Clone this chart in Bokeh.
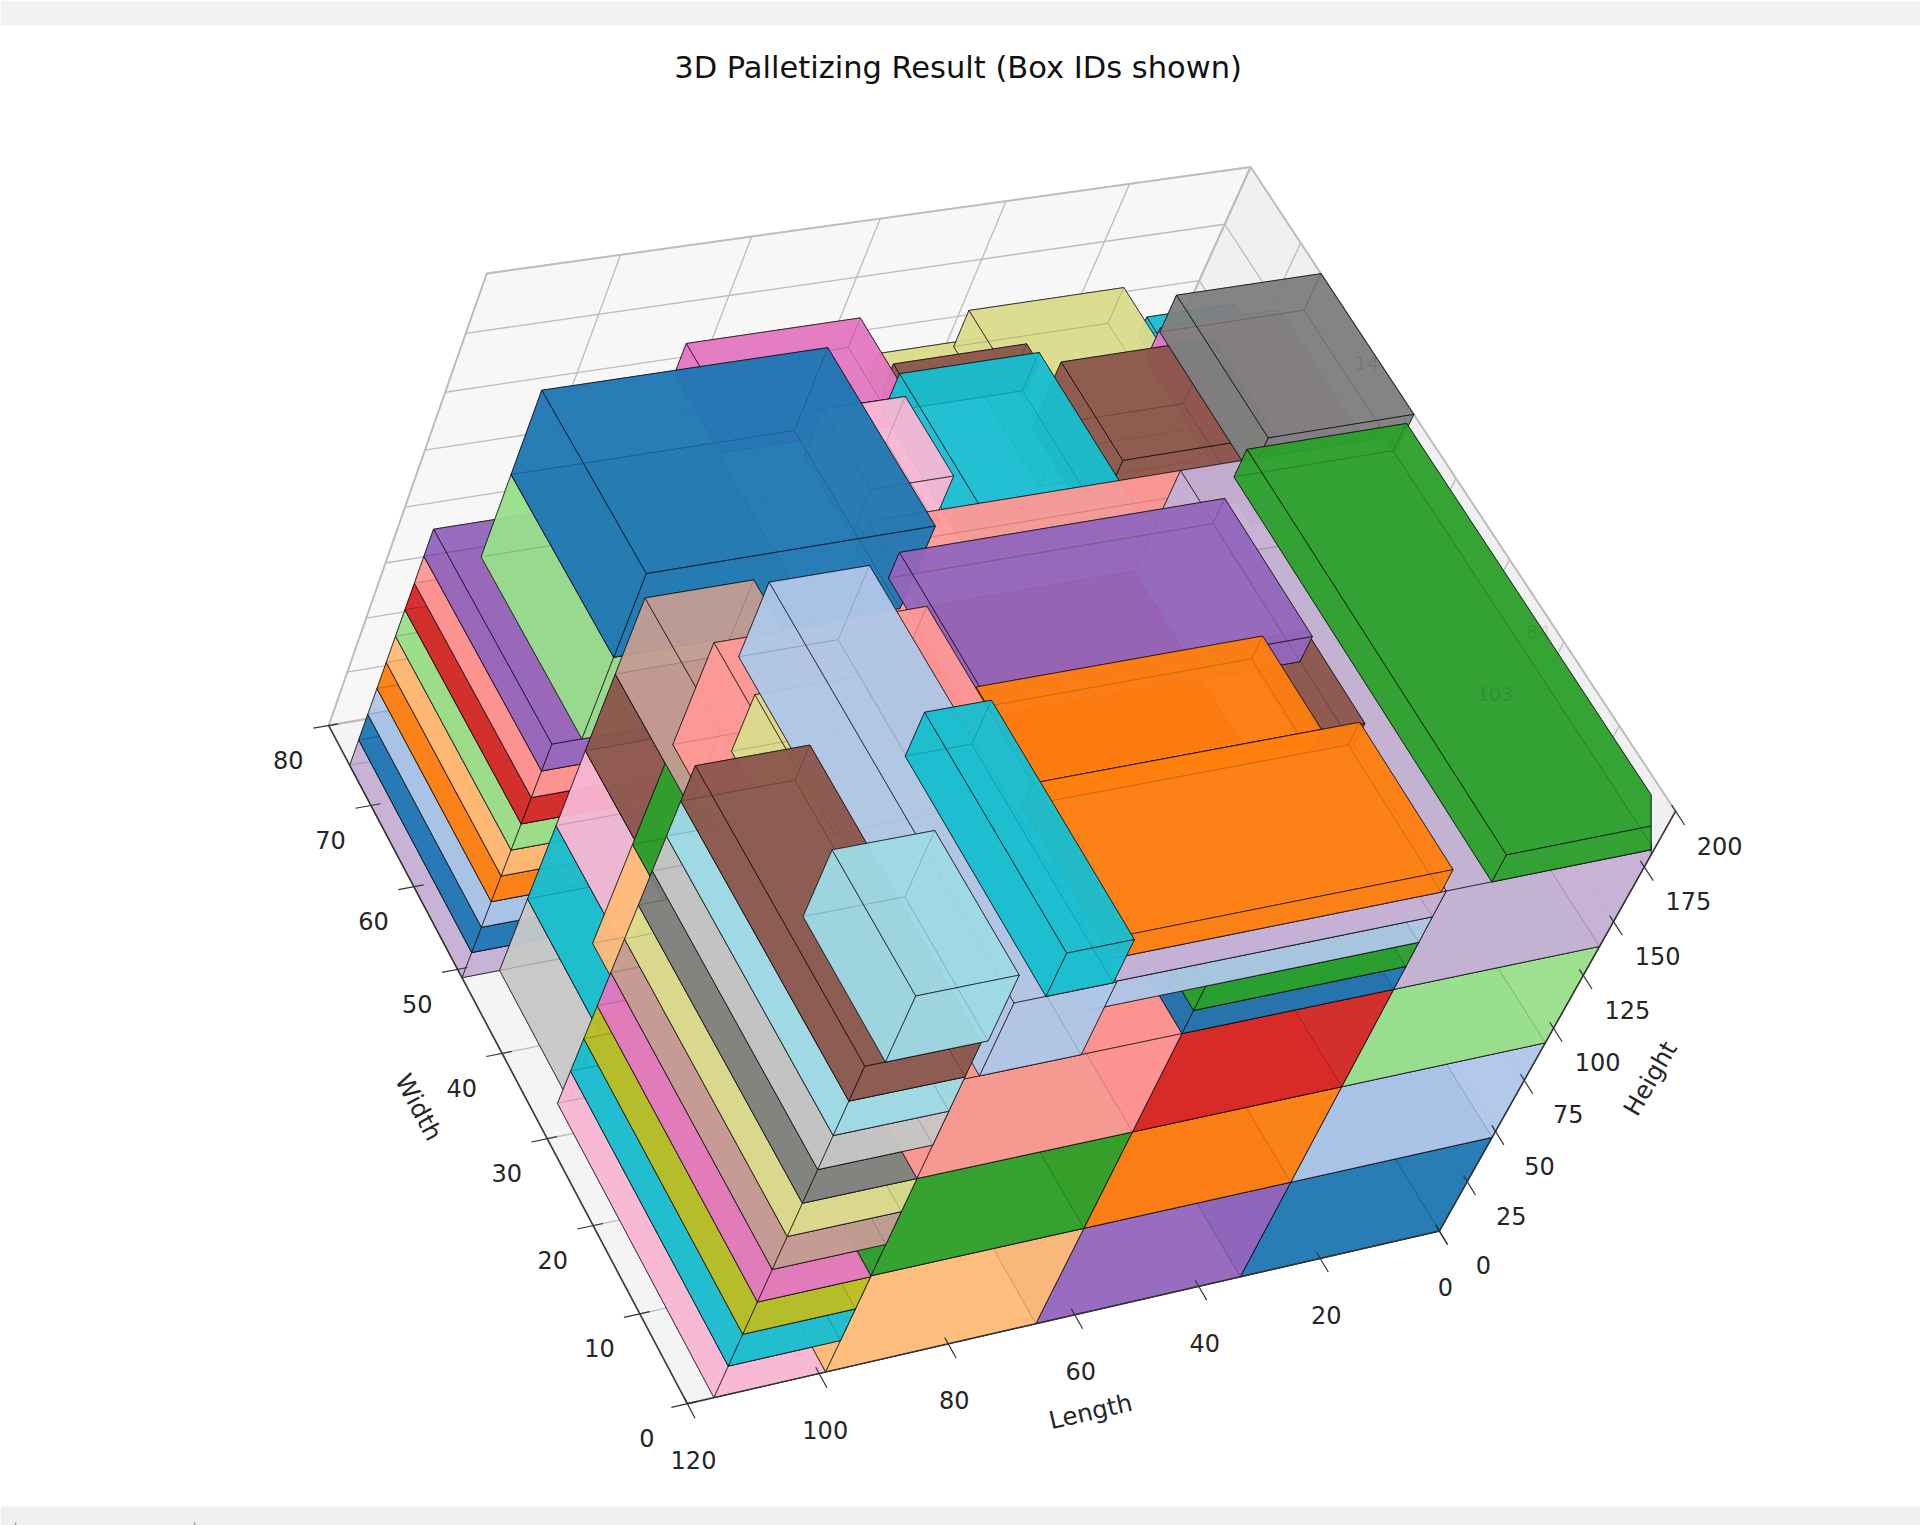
import numpy as np
from bokeh.plotting import figure
from bokeh.models import Range1d
from bokeh.embed import file_html
from bokeh.resources import INLINE
from bokeh.core.properties import value

TITLE = "3D Palletizing Result (Box IDs shown)"
LIMITS = (120.0, 80.0, 200.0)
x_ticks = [0, 20, 40, 60, 80, 100, 120]
y_ticks = [0, 10, 20, 30, 40, 50, 60, 70, 80]
z_ticks = [0, 25, 50, 75, 100, 125, 150, 175, 200]

T = dict(blue="#1f77b4", ltblue="#aec7e8", orange="#ff7f0e", peach="#ffbb78", green="#2ca02c",
         ltgreen="#98df8a", red="#d62728", salmon="#ff9896", purple="#9467bd", ppurple="#c5b0d5",
         brown="#8c564b", rosy="#c49c94", magenta="#e377c2", ppink="#f7b6d2", gray="#7f7f7f",
         ltgray="#c7c7c7", olive="#bcbd22", khaki="#dbdb8d", cyan="#17becf", ltteal="#9edae5")

box_color = ["blue","ltblue","ltgreen","ppurple","purple","orange","red","peach","green","salmon",
             "blue","green","ltblue","ppurple","orange","orange","brown","purple","salmon","magenta",
             "green","gray","ltblue","cyan",
             "ppink","cyan","olive","magenta","rosy","khaki","gray","ltgray","ltteal","brown","ltteal",
             "ltgray","cyan","ppink","brown","rosy",
             "ppurple","blue","ltblue","orange","peach","ltgreen","red","salmon","purple",
             "ltgreen","blue","magenta","ppink","cyan","brown","khaki","khaki","brown","cyan","magenta","khaki"]
box_x0 = [0,0,0,0,33.2,33.2,33.2,66.2,66.2,66.2,
          33.2,33.2,33.2,33.2,34,40,33,33,33,38,
          0,0,81.5,82,
          99,99,99,99,99,99,99,99,99,99,98,
          98,98,98,98,98,
          100,100,100,100,100,100,100,100,100,
          85,72,56.6,57,33,33,38.6,13,9.3,7.5,0,85]
box_x1 = [33.2,33.2,33.2,33.2,66.2,66.2,66.2,99,99,99,
          66.2,66.2,84,84,84,84,40,83.5,82,68,
          26,23.7,96.7,92,
          116,116,116,116,116,116,116,116,116,116,113,
          114.2,114.2,114.2,114.2,114.2,
          120,120,120,120,120,120,120,120,120,
          115.5,115.5,84,70,55.5,54.5,55,38.5,34.2,22,19.5,101]
box_y0 = [0,0,0,0,0,0,0,0,0,0,
          0,0,0,0,0,17,17,27,30,25,
          0,48,0,0,
          0,0,0,0,0,0,0,0,0,0,0,
          33.5,33.5,33.5,33.5,33.5,
          49,49,49,49,49,49,49,49,49,
          49,49,70,60,50,72.5,74,62,56.5,65,48,25]
box_y1 = [50,50,50,50,50,50,50,50,50,50,
          15,15,17,17,17,28,28,43.7,50,46,
          48.3,66,48,27,
          33.5,33.5,33.5,33.5,33.5,33.5,33.5,33.5,33.5,33.5,16,
          49,49,49,49,49,
          75,75,75,75,75,75,75,75,75,
          71,71,80,70,73,75,77,80,69,69.5,69,41]
box_z0 = [0,47,93,138.5,0,47,93,0,47,93,
          138.5,149,160,171.5,183,183,182,182,171,140,
          183,184,138.5,171,
          0,15.5,31,46.5,62,77.5,93,108.5,124,139.5,155,
          0,34,68,102,136,
          0,12,24,36,48,60,72,84,96,
          108,144,143,136,138,140,140,136,136,170,160,125]
box_z1 = [47,93,138.5,183,47,93,138.5,47,93,138.5,
          149,160,171.5,183,193,193,192,193,183,158,
          195,200,171,190,
          15.5,31,46.5,62,77.5,93,108.5,124,139.5,155,184,
          34,68,102,136,169,
          12,24,36,48,60,72,84,96,108,
          144,180,156,156,155,152,150,152,165,178,174,150]
# box index drawn directly after another box (overlaps the depth sort leaves wrong)
draw_after = [(52, 53), (9, 10), (9, 11), (60, 9), (50, 18), (54, 56), (16, 3), (17, 16), (57, 59), (21, 59)]

# faint ids showing through the boxes
id_text = ["14", "84", "103"]
id_x = [0, 2, 11]
id_y = [56, 22, 18]
id_z = [195, 198, 190]

S = 1920 / 1568
# camera: world corner -> picture position of the axes-box corners
cam_world = np.array([[0,0,0],[120,0,0],[120,80,0],[120,80,200],[0,80,200],[0,0,200]], float)
cam_pix = np.array([[1175,1005],[561,1146],[268,592],[397,223],[1021,136],[1368,662]], float) * S

L = np.array(LIMITS)
A = []
for w, q in zip(cam_world, cam_pix):
    X = list(w / L) + [1.0]
    u, v = q / 1000.0
    A.append(X + [0]*4 + [-u*c for c in X])
    A.append([0]*4 + X + [-v*c for c in X])
P = np.linalg.svd(np.array(A))[2][-1].reshape(3, 4)
if (P[2] @ np.array([.5, .5, 0, 1])) < 0:
    P = -P

def proj(pts):
    pts = np.atleast_2d(np.array(pts, float))
    H = np.c_[pts / L, np.ones(len(pts))] @ P.T
    return H[:, 0] / H[:, 2] * 1000, H[:, 1] / H[:, 2] * 1000, H[:, 2]

CLIP_X = 1348 * S

def clip_right(us, vs):
    ou, ov = [], []
    n = len(us)
    for i in range(n):
        a, b = (us[i], vs[i]), (us[(i + 1) % n], vs[(i + 1) % n])
        ina, inb = a[0] <= CLIP_X, b[0] <= CLIP_X
        if ina:
            ou.append(a[0]); ov.append(a[1])
        if ina != inb:
            t = (CLIP_X - a[0]) / (b[0] - a[0])
            ou.append(CLIP_X); ov.append(a[1] + t * (b[1] - a[1]))
    return ou, ov

boxes = []
for i, (c, x0, x1, y0, y1, z0, z1) in enumerate(zip(box_color, box_x0, box_x1, box_y0, box_y1, box_z0, box_z1)):
    quads = [
        [(x0,y0,z0),(x1,y0,z0),(x1,y1,z0),(x0,y1,z0)],
        [(x0,y0,z1),(x1,y0,z1),(x1,y1,z1),(x0,y1,z1)],
        [(x0,y0,z0),(x1,y0,z0),(x1,y0,z1),(x0,y0,z1)],
        [(x0,y1,z0),(x1,y1,z0),(x1,y1,z1),(x0,y1,z1)],
        [(x0,y0,z0),(x0,y1,z0),(x0,y1,z1),(x0,y0,z1)],
        [(x1,y0,z0),(x1,y1,z0),(x1,y1,z1),(x1,y0,z1)],
    ]
    faces = []
    wmin = 1e9
    for q in quads:
        u, v, w = proj(q)
        wmin = min(wmin, w.min())
        faces.append((w.mean(), u, v))
    faces.sort(key=lambda f: -f[0])
    boxes.append((wmin, i, T[c], faces))
boxes.sort(key=lambda b: -b[0])
for a, b in draw_after:
    ia = next(k for k, bx in enumerate(boxes) if bx[1] == a)
    ib = next(k for k, bx in enumerate(boxes) if bx[1] == b)
    if ia < ib:
        item = boxes.pop(ia)
        boxes.insert(ib, item)

fx, fy, fc = [], [], []
for _, _, col, faces in boxes:
    for _, u, v in faces:
        cu, cv = clip_right(list(u), list(v))
        if cu:
            fx.append(cu); fy.append(cv); fc.append(col)

p = figure(width=1920, height=1525, x_range=Range1d(0, 1920), y_range=Range1d(1525, 0),
           output_backend="svg", toolbar_location=None, min_border=0)
p.axis.visible = False
p.grid.visible = False
p.outline_line_color = None
p.background_fill_color = "white"
p.border_fill_color = "white"

p.quad(left=[0, 0], right=[1920, 1920], top=[0, 1506], bottom=[25, 1525], fill_color=["#f2f2f2", "#efefef"], line_color=None)
p.segment(x0=[15, 194], y0=[1522, 1522], x1=[15, 194], y1=[1525, 1525], line_color="#999999", line_width=1.5)

# panes
walls = [
    ([(0,80,0),(120,80,0),(120,80,200),(0,80,200)], "#f7f7f7"),
    ([(0,0,0),(0,80,0),(0,80,200),(0,0,200)], "#f0f0f0"),
    ([(0,0,0),(120,0,0),(120,80,0),(0,80,0)], "#f4f4f4"),
]
for q, col in walls:
    u, v, _ = proj(q)
    p.patch(list(u), list(v), fill_color=col, line_color="#c4c4c4", line_width=2.0)

def seg(a, b, color, width):
    u, v, _ = proj([a, b])
    p.line(list(u), list(v), line_color=color, line_width=width)

GRID = "#bcbcbc"
for x in x_ticks:
    seg((x,80,0),(x,80,200),GRID,1.3); seg((x,0,0),(x,80,0),GRID,1.3)
for y in y_ticks:
    seg((0,y,0),(0,y,200),GRID,1.3); seg((0,y,0),(120,y,0),GRID,1.3)
for z in z_ticks:
    seg((0,80,z),(120,80,z),GRID,1.3); seg((0,0,z),(0,80,z),GRID,1.3)

p.patches(fx, fy, fill_color=fc, fill_alpha=0.78, line_color="black", line_alpha=0.75, line_width=0.8)

AX = "#333333"
seg((120,80,0),(120,0,0),AX,1.4); seg((120,0,0),(0,0,0),AX,1.4); seg((0,0,0),(0,0,200),AX,1.4)
for x in x_ticks:
    seg((x,0.7,0),(x,-1.6,0),AX,1.2)
for y in y_ticks:
    seg((118.5,y,0),(122.4,y,0),AX,1.2)
for z in z_ticks:
    seg((0,0.7,z),(0,-1.6,z),AX,1.2)

FONT = value("DejaVu Sans")
def texts(us, vs, labels, size, angle=0.0, color="#262626", alpha=1.0):
    p.text(x=us, y=vs, text=labels, text_font=FONT, text_font_size=size, text_align="center",
           text_baseline="middle", text_color=color, text_alpha=alpha, angle=angle)

u, v, _ = proj([(x,0,0) for x in x_ticks])
texts(list(u + 5*S), list(v + 46*S), [str(t) for t in x_ticks], "24px")
u, v, _ = proj([(120,y,0) for y in y_ticks])
texts(list(u - 33*S), list(v + 28*S), [str(t) for t in y_ticks], "24px")
u, v, _ = proj([(0,0,z) for z in z_ticks])
texts(list(u + 36*S), list(v + 28*S), [str(t) for t in z_ticks], "24px")

u, v, _ = proj([(60,0,0)])
texts([u[0] + 13*S], [v[0] + 79*S], ["Length"], "24.5px", angle=np.radians(13))
u, v, _ = proj([(120,40,0)])
texts([u[0] - 68*S], [v[0] + 44*S], ["Width"], "24.5px", angle=np.radians(-62))
u, v, _ = proj([(0,0,100)])
texts([u[0] + 79*S], [v[0] + 41*S], ["Height"], "24.5px", angle=np.radians(60))

texts([782*S], [55*S], [TITLE], "30.5px", color="#111111")

u, v, _ = proj(list(zip(id_x, id_y, id_z)))
texts(list(u), list(v), id_text, "19px", color="#000000", alpha=0.1)

open("out.html", "w").write(file_html(p, INLINE))
